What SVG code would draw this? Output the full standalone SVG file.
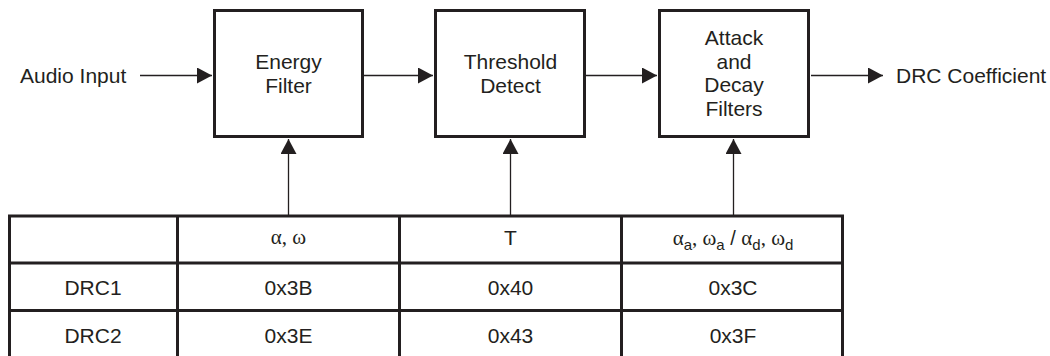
<svg xmlns="http://www.w3.org/2000/svg" width="1050" height="356" viewBox="0 0 1050 356">
<style>
  .box{fill:#fff;stroke:#231f20;stroke-width:3}
  .lbl{font-family:"Liberation Sans",Arial,sans-serif;font-size:21px;fill:#231f20}
  .mid{text-anchor:middle}
  .conn{stroke:#231f20;stroke-width:1.3;fill:none}
  .grid{stroke:#231f20;stroke-width:3;fill:none}
  .gr{font-family:"Liberation Serif","Times New Roman",serif;font-size:21px}
  .sub{font-family:"Liberation Sans",Arial,sans-serif;font-size:15px}
</style>
<defs>
  <marker id="ah" markerUnits="userSpaceOnUse" markerWidth="16" markerHeight="16" viewBox="0 0 15 16" refX="15" refY="8" orient="auto">
    <path d="M0,0 L15,8 L0,16 Z" fill="#231f20"/>
  </marker>
</defs>

<g id="connectors">
  <line class="conn" x1="140" y1="75.5" x2="212" y2="75.5" marker-end="url(#ah)"/>
  <line class="conn" x1="364" y1="75.5" x2="433" y2="75.5" marker-end="url(#ah)"/>
  <line class="conn" x1="586" y1="75.5" x2="657" y2="75.5" marker-end="url(#ah)"/>
  <line class="conn" x1="811" y1="75.5" x2="883" y2="75.5" marker-end="url(#ah)"/>
  <line class="conn" x1="288.5" y1="215" x2="288.5" y2="139" marker-end="url(#ah)"/>
  <line class="conn" x1="510.5" y1="215" x2="510.5" y2="139" marker-end="url(#ah)"/>
  <line class="conn" x1="733.5" y1="215" x2="733.5" y2="139" marker-end="url(#ah)"/>
</g>

<g id="audio-input">
  <text class="lbl" x="20" y="83">Audio Input</text>
</g>

<g id="energy-filter">
  <rect class="box" x="214.5" y="10.5" width="148" height="126"/>
  <text class="lbl mid" x="288.5" y="69">Energy</text>
  <text class="lbl mid" x="288.5" y="93">Filter</text>
</g>

<g id="threshold-detect">
  <rect class="box" x="435.5" y="10.5" width="149" height="126"/>
  <text class="lbl mid" x="510.5" y="69">Threshold</text>
  <text class="lbl mid" x="510.5" y="93">Detect</text>
</g>

<g id="attack-decay">
  <rect class="box" x="659.5" y="10.5" width="149" height="126"/>
  <text class="lbl mid" x="734" y="45">Attack</text>
  <text class="lbl mid" x="734" y="68.5">and</text>
  <text class="lbl mid" x="734" y="92">Decay</text>
  <text class="lbl mid" x="734" y="115.5">Filters</text>
</g>

<g id="drc-coefficient">
  <text class="lbl" x="896" y="83">DRC Coefficient</text>
</g>

<g id="table">
  <rect class="grid" x="9.5" y="216" width="833" height="145"/>
  <line class="grid" x1="9.5" y1="263" x2="842.5" y2="263"/>
  <line class="grid" x1="9.5" y1="310.5" x2="842.5" y2="310.5"/>
  <line class="grid" x1="177.5" y1="216" x2="177.5" y2="361"/>
  <line class="grid" x1="399.5" y1="216" x2="399.5" y2="361"/>
  <line class="grid" x1="621.5" y1="216" x2="621.5" y2="361"/>

  <text class="lbl mid gr" x="288.5" y="244">α, ω</text>
  <text class="lbl mid" x="510.5" y="245">T</text>
  <text class="lbl mid" x="733" y="245"><tspan class="gr">α</tspan><tspan class="sub" dy="5">a</tspan><tspan class="gr" dy="-5">, ω</tspan><tspan class="sub" dy="5">a</tspan><tspan class="sub" dy="-5" style="font-size:20px"> / </tspan><tspan class="gr">α</tspan><tspan class="sub" dy="5">d</tspan><tspan class="gr" dy="-5">, ω</tspan><tspan class="sub" dy="5">d</tspan></text>

  <text class="lbl mid" x="93" y="295">DRC1</text>
  <text class="lbl mid" x="288.5" y="295">0x3B</text>
  <text class="lbl mid" x="510.5" y="295">0x40</text>
  <text class="lbl mid" x="733" y="295">0x3C</text>

  <text class="lbl mid" x="93" y="342.5">DRC2</text>
  <text class="lbl mid" x="288.5" y="342.5">0x3E</text>
  <text class="lbl mid" x="510.5" y="342.5">0x43</text>
  <text class="lbl mid" x="733" y="342.5">0x3F</text>
</g>
</svg>
